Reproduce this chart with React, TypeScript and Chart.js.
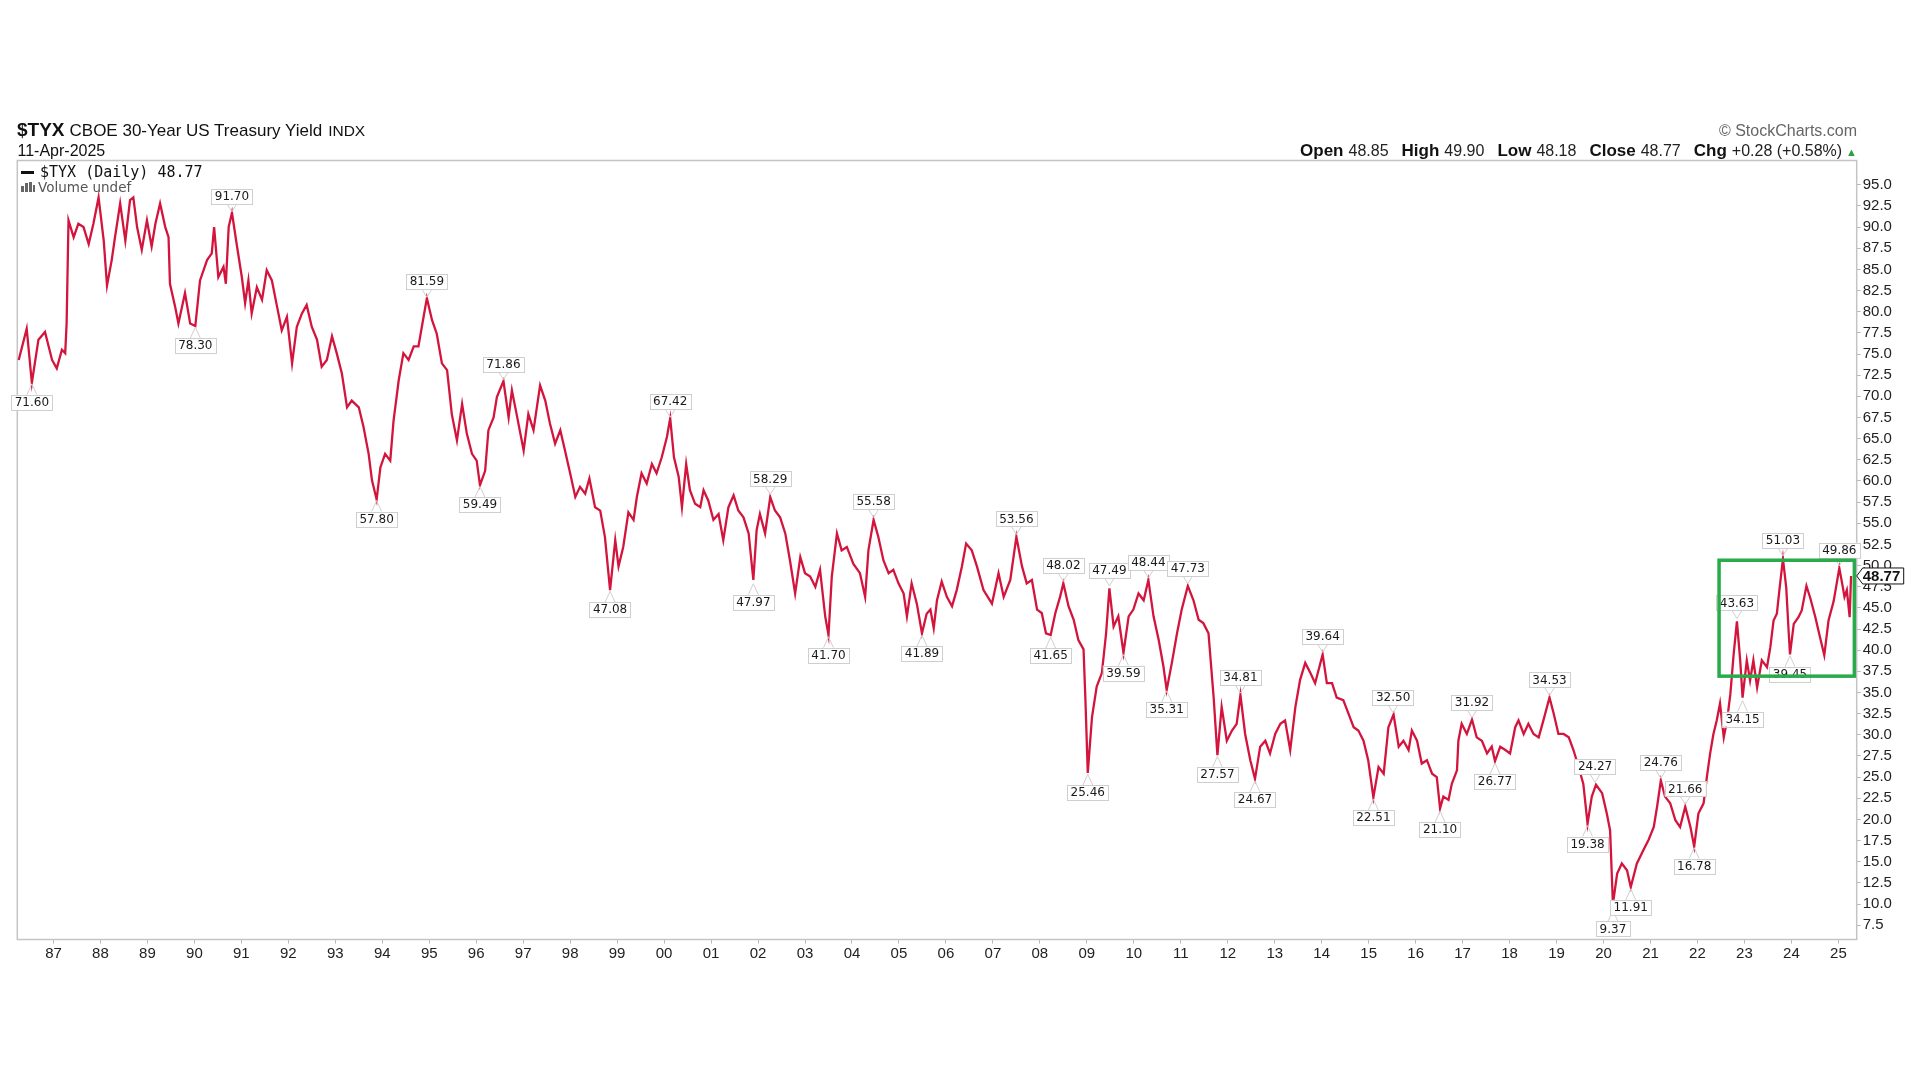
import React, { useEffect, useRef } from 'react';
import { Chart, registerables } from 'chart.js';

Chart.register(...registerables);

// ---------- data (decimal year, $TYX close) ----------
const dates87 = [
  1986.26, 1986.43, 1986.54, 1986.68, 1986.82, 1986.97, 1987.07, 1987.18, 1987.25, 1987.28,
  1987.32, 1987.43, 1987.53, 1987.64, 1987.75, 1987.85, 1987.96, 1988.07, 1988.14, 1988.24,
  1988.31, 1988.42, 1988.53, 1988.63, 1988.70, 1988.78, 1988.88, 1988.99, 1989.09, 1989.17,
  1989.27, 1989.38, 1989.45, 1989.48, 1989.59, 1989.66, 1989.80, 1989.91, 1990.02, 1990.12,
  1990.27, 1990.37, 1990.42, 1990.51, 1990.62, 1990.67, 1990.73, 1990.80, 1990.90, 1991.01,
  1991.08, 1991.15, 1991.22, 1991.33, 1991.44, 1991.54, 1991.65, 1991.76, 1991.86, 1991.97,
  1992.08, 1992.18, 1992.29, 1992.39, 1992.50, 1992.61, 1992.71, 1992.82, 1992.93, 1993.03,
  1993.14, 1993.25, 1993.35, 1993.50, 1993.60, 1993.71, 1993.78, 1993.88, 1993.96, 1994.06,
  1994.17, 1994.24, 1994.35, 1994.45, 1994.56, 1994.67, 1994.77, 1994.88, 1994.95, 1995.06,
  1995.16, 1995.27, 1995.38, 1995.48, 1995.59, 1995.70, 1995.80, 1995.91, 1996.01, 1996.08,
];
const yields87 = [
  74.3, 78.0, 71.6, 76.7, 77.6, 74.3, 73.3, 75.5, 75.1, 78.6,
  90.8, 88.8, 90.4, 90.0, 88.0, 90.4, 93.5, 88.4, 83.1, 86.1,
  88.8, 92.8, 88.4, 93.2, 93.5, 90.0, 87.3, 90.8, 87.7, 90.4,
  92.8, 90.0, 88.8, 83.3, 80.6, 78.6, 82.2, 78.6, 78.3, 83.7,
  86.1, 86.9, 90.0, 84.1, 85.3, 83.3, 90.0, 91.7, 88.0, 84.1,
  81.0, 83.7, 79.8, 82.9, 81.4, 84.9, 83.7, 80.6, 77.8, 79.4,
  73.9, 78.2, 79.8, 80.8, 78.2, 76.7, 73.5, 74.3, 77.1, 75.1,
  72.7, 68.7, 69.5, 68.7, 66.4, 63.2, 60.1, 57.8, 61.6, 63.2,
  62.4, 67.1, 71.9, 75.1, 74.3, 75.9, 75.9, 79.4, 81.6, 79.0,
  77.4, 73.9, 73.1, 67.9, 64.8, 69.1, 65.6, 63.2, 62.4, 59.5,
];

const dates96 = [
  1996.19, 1996.26, 1996.37, 1996.44, 1996.58, 1996.69, 1996.76, 1996.86, 1997.01, 1997.11,
  1997.22, 1997.36, 1997.47, 1997.57, 1997.68, 1997.79, 1997.89, 1998.00, 1998.11, 1998.21,
  1998.32, 1998.41, 1998.53, 1998.64, 1998.74, 1998.85, 1998.96, 1999.03, 1999.13, 1999.24,
  1999.35, 1999.42, 1999.52, 1999.63, 1999.74, 1999.84, 1999.95, 2000.06, 2000.13, 2000.21,
  2000.31, 2000.38, 2000.47, 2000.55, 2000.66, 2000.77, 2000.84, 2000.94, 2001.05, 2001.16,
  2001.26, 2001.37, 2001.48, 2001.58, 2001.69, 2001.80, 2001.90, 2001.97, 2002.04, 2002.15,
  2002.26, 2002.36, 2002.47, 2002.58, 2002.68, 2002.79, 2002.90, 2003.00, 2003.11, 2003.22,
  2003.32, 2003.43, 2003.50, 2003.57, 2003.68, 2003.78, 2003.89, 2004.03, 2004.17, 2004.28,
  2004.35, 2004.46, 2004.56, 2004.67, 2004.78, 2004.88, 2004.99, 2005.10, 2005.17, 2005.27,
  2005.38, 2005.49, 2005.59,
];
const yields96 = [
  61.2, 66.0, 67.5, 69.9, 71.8, 67.5, 70.7, 67.9, 63.6, 67.9,
  66.0, 71.3, 69.5, 66.8, 64.4, 66.0, 63.6, 60.9, 58.1, 59.3,
  58.5, 60.3, 56.9, 56.5, 53.4, 47.1, 53.0, 49.9, 52.2, 56.3,
  55.4, 58.1, 60.9, 59.7, 62.0, 60.9, 62.8, 65.2, 67.4, 62.8,
  60.5, 56.9, 62.0, 58.9, 57.3, 56.9, 58.9, 57.7, 55.4, 56.1,
  53.0, 56.9, 58.3, 56.5, 55.7, 53.8, 48.3, 54.2, 56.1, 53.8,
  58.1, 56.5, 55.7, 53.8, 50.6, 46.7, 51.0, 49.1, 48.7, 47.5,
  49.5, 44.0, 41.8, 48.7, 53.8, 51.8, 52.2, 50.2, 49.1, 46.3,
  51.8, 55.4, 53.4, 50.6, 49.1, 49.5, 47.9, 46.7, 44.0, 47.9,
  45.5, 42.0, 44.3,
];

const dates05 = [
  2005.67, 2005.74, 2005.81, 2005.91, 2006.02, 2006.13, 2006.23, 2006.34, 2006.43, 2006.55,
  2006.66, 2006.80, 2006.98, 2007.12, 2007.23, 2007.37, 2007.50, 2007.62, 2007.72, 2007.83,
  2007.94, 2008.04, 2008.13, 2008.23, 2008.33, 2008.43, 2008.50, 2008.61, 2008.72, 2008.82,
  2008.93, 2008.97, 2009.02, 2009.11, 2009.21, 2009.32, 2009.41, 2009.48, 2009.57, 2009.67,
  2009.78, 2009.89, 2009.99, 2010.10, 2010.21, 2010.31, 2010.42, 2010.53, 2010.63, 2010.70,
  2010.81, 2010.92, 2011.02, 2011.15, 2011.27, 2011.38, 2011.48, 2011.59, 2011.70, 2011.78,
  2011.87, 2011.98, 2012.09, 2012.19, 2012.27, 2012.37, 2012.48, 2012.58, 2012.69, 2012.80,
  2012.90, 2013.01, 2013.12, 2013.22, 2013.33, 2013.44, 2013.54, 2013.65, 2013.76, 2013.86,
  2014.02, 2014.11, 2014.22, 2014.32, 2014.46, 2014.57, 2014.68, 2014.78, 2014.89, 2014.99,
  2015.10, 2015.21, 2015.32, 2015.42, 2015.53,
];
const yields05 = [
  44.8, 42.6, 45.9, 48.1, 46.3, 45.2, 47.1, 49.9, 52.6, 51.8,
  49.9, 47.1, 45.5, 49.1, 46.3, 48.3, 53.4, 49.9, 47.9, 48.3,
  44.8, 44.4, 42.0, 41.8, 44.4, 46.3, 47.9, 45.2, 43.6, 41.2,
  40.1, 34.1, 25.5, 32.1, 35.7, 37.3, 42.0, 47.3, 42.8, 44.0,
  39.7, 44.0, 44.8, 46.7, 45.9, 48.3, 44.0, 41.2, 38.1, 35.3,
  38.5, 42.0, 44.8, 47.6, 45.9, 43.6, 43.2, 42.0, 34.4, 27.6,
  33.3, 29.3, 30.5, 31.3, 34.7, 30.1, 27.0, 24.8, 28.6, 29.3,
  27.8, 30.1, 31.3, 31.7, 28.2, 33.3, 36.5, 38.5, 37.3, 36.1,
  39.5, 36.1, 36.1, 34.4, 34.1, 32.5, 30.9, 30.5, 29.3, 27.0,
  22.6, 26.2, 25.4, 30.9, 32.4,
];

const dates15 = [
  2015.64, 2015.74, 2015.85, 2015.92, 2016.03, 2016.13, 2016.24, 2016.35, 2016.45, 2016.52,
  2016.59, 2016.70, 2016.77, 2016.88, 2016.91, 2016.98, 2017.09, 2017.20, 2017.30, 2017.41,
  2017.52, 2017.62, 2017.69, 2017.80, 2017.91, 2018.01, 2018.12, 2018.19, 2018.30, 2018.40,
  2018.51, 2018.62, 2018.72, 2018.85, 2018.94, 2019.04, 2019.15, 2019.26, 2019.36, 2019.47,
  2019.57, 2019.66, 2019.75, 2019.84, 2019.97, 2020.07, 2020.14, 2020.20, 2020.29, 2020.39,
  2020.50, 2020.58, 2020.71, 2020.85, 2020.96, 2021.07, 2021.14, 2021.22, 2021.31, 2021.42,
  2021.53, 2021.63, 2021.74, 2021.85, 2021.93, 2022.02, 2022.13, 2022.20, 2022.27, 2022.34,
  2022.41, 2022.48, 2022.56, 2022.63, 2022.70, 2022.77, 2022.84, 2022.91, 2022.96, 2023.05,
  2023.12, 2023.19, 2023.27, 2023.37, 2023.48, 2023.55, 2023.62, 2023.69, 2023.75, 2023.82,
  2023.89, 2023.94, 2023.97, 2024.05, 2024.15, 2024.22, 2024.32, 2024.40, 2024.51, 2024.61,
  2024.70, 2024.79, 2024.90, 2025.02, 2025.08, 2025.13, 2025.18, 2025.24, 2025.27,
];
const yields15 = [
  28.6, 29.3, 28.2, 30.5, 29.3, 26.6, 27.0, 25.4, 25.0, 21.3,
  22.7, 22.3, 24.2, 25.8, 29.3, 31.3, 30.1, 31.8, 29.7, 29.3,
  27.8, 28.6, 26.9, 28.6, 28.2, 27.8, 30.9, 31.7, 30.1, 31.3,
  30.1, 29.7, 31.7, 34.4, 32.5, 30.1, 30.1, 29.7, 28.2, 26.2,
  24.2, 19.5, 22.7, 24.1, 23.1, 20.7, 18.7, 10.0, 13.6, 14.8,
  14.0, 12.0, 14.8, 16.4, 17.6, 19.1, 21.5, 24.6, 22.7, 21.9,
  19.9, 19.1, 21.5, 19.1, 16.8, 20.7, 21.9, 25.0, 27.8, 30.1,
  31.7, 33.7, 29.7, 31.7, 34.8, 39.5, 43.4, 38.8, 34.4, 38.8,
  36.4, 38.8, 35.6, 38.8, 38.0, 40.3, 43.5, 44.3, 47.4, 50.8,
  47.4, 42.3, 39.5, 43.1, 43.9, 44.7, 47.6, 46.2, 43.9, 41.5,
  39.4, 43.5, 45.8, 49.7, 47.9, 46.3, 47.1, 43.9, 48.77,
];

// peak / trough annotations
const labelDates = [
  1986.54, 1990.80, 1990.02, 1994.95, 1993.88, 1996.08, 1996.58, 2000.13, 1998.85, 2002.26,
  2001.90, 2003.50, 2004.46, 2005.49, 2007.50, 2008.50, 2008.23, 2009.02, 2009.48, 2009.78,
  2010.31, 2010.70, 2011.15, 2011.78, 2012.27, 2012.58, 2014.02, 2015.10, 2015.52, 2016.52,
  2017.20, 2017.69, 2018.85, 2019.66, 2019.82, 2020.20, 2020.58, 2021.22, 2021.74, 2021.93,
  2022.84, 2022.96, 2023.82, 2023.97, 2025.02,
];
const labelValues = [
  71.60, 91.70, 78.30, 81.59, 57.80, 59.49, 71.86, 67.42, 47.08, 58.29,
  47.97, 41.70, 55.58, 41.89, 53.56, 48.02, 41.65, 25.46, 47.49, 39.59,
  48.44, 35.31, 47.73, 27.57, 34.81, 24.67, 39.64, 22.51, 32.50, 21.10,
  31.92, 26.77, 34.53, 19.38, 24.27, 9.37, 11.91, 24.76, 21.66, 16.78,
  43.63, 34.15, 51.03, 39.45, 49.86,
];
const labelSides = [
  'b', 'a', 'b', 'a', 'b', 'b', 'a', 'a', 'b', 'a',
  'b', 'b', 'a', 'b', 'a', 'a', 'b', 'b', 'a', 'b',
  'a', 'b', 'a', 'b', 'a', 'b', 'a', 'b', 'a', 'b',
  'a', 'b', 'a', 'b', 'a', 'b', 'b', 'a', 'a', 'b',
  'a', 'b', 'a', 'b', 'a',
];

// highlight rectangle (years, yield)
const boxYears = [2022.46, 2025.34];
const boxYields = [36.93, 50.63];

const lastClose = 48.77;

const yearTicks = [
  1987, 1988, 1989, 1990, 1991, 1992, 1993, 1994, 1995, 1996, 1997, 1998, 1999, 2000,
  2001, 2002, 2003, 2004, 2005, 2006, 2007, 2008, 2009, 2010, 2011, 2012, 2013, 2014,
  2015, 2016, 2017, 2018, 2019, 2020, 2021, 2022, 2023, 2024, 2025,
];
const yieldTicks = [
  7.5, 10, 12.5, 15, 17.5, 20, 22.5, 25, 27.5, 30, 32.5, 35, 37.5, 40, 42.5, 45, 47.5,
  50, 52.5, 55, 57.5, 60, 62.5, 65, 67.5, 70, 72.5, 75, 77.5, 80, 82.5, 85, 87.5, 90,
  92.5, 95,
];

const ohlc = [
  ['Open', '48.85'],
  ['High', '49.90'],
  ['Low', '48.18'],
  ['Close', '48.77'],
  ['Chg', '+0.28 (+0.58%)'],
];

const LINE_RED = '#d3153d';
const FRAME = '#c4c4c4';
const SANS = '"Liberation Sans", Arial, Helvetica, sans-serif';

const framePlugin = {
  id: 'frame',
  beforeDatasetsDraw(chart: any) {
    const { ctx, chartArea: a } = chart;
    ctx.save();
    ctx.strokeStyle = FRAME;
    ctx.lineWidth = 1.5;
    ctx.strokeRect(a.left, a.top, a.right - a.left, a.bottom - a.top);
    ctx.restore();
  },
};

const labelPlugin = {
  id: 'peakLabels',
  afterDatasetsDraw(chart: any) {
    const { ctx } = chart;
    const xs = chart.scales.x;
    const ys = chart.scales.y;
    ctx.save();
    ctx.font = '12px "DejaVu Sans", Verdana, sans-serif';
    ctx.textAlign = 'center';
    ctx.textBaseline = 'middle';
    labelDates.forEach((d, i) => {
      const px = xs.getPixelForValue(d);
      const py = ys.getPixelForValue(labelValues[i]);
      const text = labelValues[i].toFixed(2);
      const w = ctx.measureText(text).width + 7;
      const h = 15;
      const above = labelSides[i] === 'a';
      const gap = above ? 9 : 12;
      const top = above ? py - gap - h : py + gap;
      const edge = above ? top + h : top;
      const tip = above ? py - 1 : py + 1;
      ctx.fillStyle = '#ffffff';
      ctx.strokeStyle = '#cfcfcf';
      ctx.lineWidth = 1;
      ctx.beginPath();
      ctx.moveTo(px - 5, edge);
      ctx.lineTo(px, tip);
      ctx.lineTo(px + 5, edge);
      ctx.stroke();
      ctx.fillRect(px - w / 2, top, w, h);
      ctx.strokeRect(Math.round(px - w / 2) + 0.5, Math.round(top) + 0.5, Math.round(w), h);
      ctx.fillStyle = '#1a1a1a';
      ctx.fillText(text, px, top + h / 2 + 0.5);
    });
    ctx.restore();
  },
};

const overlayPlugin = {
  id: 'overlay',
  afterDraw(chart: any) {
    const { ctx, chartArea: a } = chart;
    const xs = chart.scales.x;
    const ys = chart.scales.y;
    ctx.save();
    const x0 = xs.getPixelForValue(boxYears[0]);
    const x1 = xs.getPixelForValue(boxYears[1]);
    const y0 = ys.getPixelForValue(boxYields[1]);
    const y1 = ys.getPixelForValue(boxYields[0]);
    ctx.strokeStyle = '#2aab4b';
    ctx.lineWidth = 3.5;
    ctx.strokeRect(x0, y0, x1 - x0, y1 - y0);
    const cy = ys.getPixelForValue(lastClose);
    const lx = a.right;
    ctx.beginPath();
    ctx.moveTo(lx, cy);
    ctx.lineTo(lx + 6, cy - 8);
    ctx.lineTo(lx + 47, cy - 8);
    ctx.lineTo(lx + 47, cy + 8);
    ctx.lineTo(lx + 6, cy + 8);
    ctx.closePath();
    ctx.fillStyle = '#ffffff';
    ctx.fill();
    ctx.strokeStyle = '#111111';
    ctx.lineWidth = 1;
    ctx.stroke();
    ctx.fillStyle = '#111111';
    ctx.font = 'bold 15px ' + SANS;
    ctx.textAlign = 'left';
    ctx.textBaseline = 'middle';
    ctx.fillText(lastClose.toFixed(2), lx + 6, cy + 1);
    ctx.restore();
  },
};

export default function App() {
  const ref = useRef<HTMLCanvasElement>(null);

  useEffect(() => {
    document.body.style.margin = '0';
    const canvas = ref.current;
    if (!canvas) return;
    const dates = [...dates87, ...dates96, ...dates05, ...dates15];
    const yields = [...yields87, ...yields96, ...yields05, ...yields15];
    const points = dates.map((x, i) => ({ x, y: yields[i] }));

    const chart = new Chart(canvas, {
      type: 'line',
      data: {
        datasets: [
          {
            label: '$TYX',
            data: points,
            borderColor: LINE_RED,
            borderWidth: 2.3,
            pointRadius: 0,
            tension: 0,
            fill: false,
          },
        ],
      },
      options: {
        responsive: false,
        maintainAspectRatio: false,
        animation: false,
        devicePixelRatio: 1,
        events: [],
        layout: { padding: { left: 17.3, top: 160.5, right: 0, bottom: 0 } },
        plugins: { legend: { display: false }, tooltip: { enabled: false }, title: { display: false } },
        scales: {
          x: {
            type: 'linear',
            position: 'bottom',
            min: 1986.23,
            max: 2025.39,
            afterBuildTicks: (s: any) => {
              s.ticks = yearTicks.map((v) => ({ value: v }));
            },
            afterFit: (s: any) => {
              s.height = 140.5;
            },
            grid: { display: true, drawOnChartArea: false, drawTicks: true, tickLength: 4, color: '#b8b8b8' },
            border: { display: false },
            ticks: {
              autoSkip: false,
              maxRotation: 0,
              padding: 1,
              color: '#222222',
              font: { family: SANS, size: 15 },
              callback: (v: any) => String(Math.round(Number(v)) % 100).padStart(2, '0'),
            },
          },
          y: {
            type: 'linear',
            position: 'right',
            min: 5.81,
            max: 97.87,
            afterBuildTicks: (s: any) => {
              s.ticks = yieldTicks.map((v) => ({ value: v }));
            },
            afterFit: (s: any) => {
              s.width = 63.3;
            },
            grid: { display: true, drawOnChartArea: false, drawTicks: true, tickLength: 4, color: '#b8b8b8' },
            border: { display: false },
            ticks: {
              autoSkip: false,
              padding: 2,
              color: '#222222',
              font: { family: SANS, size: 15 },
              callback: (v: any) => Number(v).toFixed(1),
            },
          },
        },
      },
      plugins: [framePlugin, labelPlugin, overlayPlugin],
    } as any);

    return () => chart.destroy();
  }, []);

  return (
    <div style={{ position: 'relative', width: 1920, height: 1080, background: '#ffffff', overflow: 'hidden' }}>
      <canvas ref={ref} width={1920} height={1080} style={{ position: 'absolute', left: 0, top: 0, width: 1920, height: 1080 }} />
      <div
        style={{
          position: 'absolute', left: 17, top: 120, whiteSpace: 'nowrap', fontFamily: SANS,
          fontSize: 19, lineHeight: '20px', color: '#111',
        }}
      >
        <span style={{ fontWeight: 'bold', fontSize: 19 }}>$TYX</span>
        <span style={{ fontSize: 17, marginLeft: 5 }}>CBOE 30-Year US Treasury Yield</span>
        <span style={{ fontSize: 15.5, marginLeft: 6 }}>INDX</span>
      </div>
      <div
        style={{
          position: 'absolute', left: 17.5, top: 143, whiteSpace: 'nowrap', fontFamily: SANS,
          fontSize: 16, lineHeight: '16px', color: '#111',
        }}
      >
        11-Apr-2025
      </div>
      <div
        style={{
          position: 'absolute', right: 63, top: 122.5, whiteSpace: 'nowrap', fontFamily: SANS,
          fontSize: 16, lineHeight: '16px', color: '#666',
        }}
      >
        © StockCharts.com
      </div>
      <div
        style={{
          position: 'absolute', right: 63, top: 142, whiteSpace: 'nowrap', fontFamily: SANS,
          fontSize: 17, lineHeight: '18px', color: '#111',
        }}
      >
        {ohlc.map(([k, v], i) => (
          <span key={k} style={{ marginLeft: i === 0 ? 0 : 13 }}>
            <span style={{ fontWeight: 'bold', fontSize: 17 }}>{k}</span>
            <span style={{ fontSize: 16, marginLeft: 5, color: '#222' }}>{v}</span>
          </span>
        ))}
        <span style={{ fontSize: 11, marginLeft: 4, color: '#2e9e3e' }}>▲</span>
      </div>
      <div
        style={{
          position: 'absolute', left: 21, top: 164.5, whiteSpace: 'nowrap',
          fontFamily: '"DejaVu Sans Mono", monospace', fontSize: 15, lineHeight: '15px', color: '#111',
        }}
      >
        <span style={{ display: 'inline-block', width: 13, height: 3, background: '#111', verticalAlign: 'middle', marginRight: 6 }} />
        $TYX (Daily) 48.77
      </div>
      <div
        style={{
          position: 'absolute', left: 21, top: 181, whiteSpace: 'nowrap',
          fontFamily: '"DejaVu Sans", Verdana, sans-serif', fontSize: 13.5, lineHeight: '13.5px', color: '#555',
        }}
      >
        <span style={{ display: 'inline-block', width: 14, height: 10, marginRight: 3, position: 'relative', verticalAlign: 'baseline' }}>
          <span style={{ position: 'absolute', left: 0, bottom: 0, width: 3, height: 6, background: '#666' }} />
          <span style={{ position: 'absolute', left: 4, bottom: 0, width: 3, height: 9, background: '#666' }} />
          <span style={{ position: 'absolute', left: 8, bottom: 0, width: 3, height: 10, background: '#666' }} />
          <span style={{ position: 'absolute', left: 12, bottom: 0, width: 2, height: 7, background: '#666' }} />
        </span>
        Volume undef
      </div>
    </div>
  );
}
